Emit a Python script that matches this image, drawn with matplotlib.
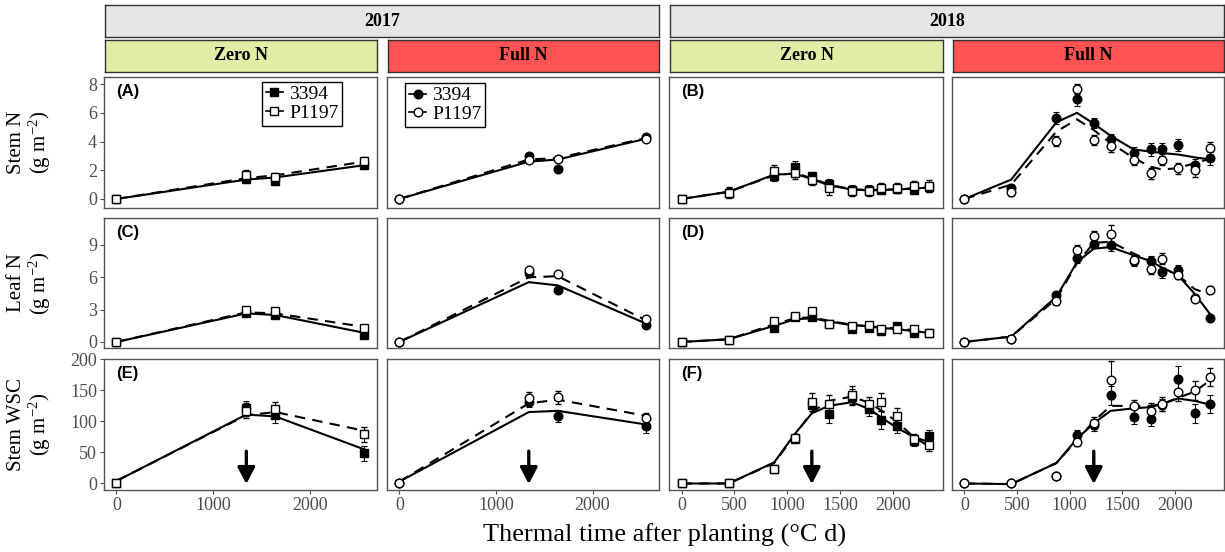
import matplotlib.pyplot as plt
from matplotlib.lines import Line2D

plt.rcParams['font.family'] = ['Liberation Serif', 'DejaVu Serif']
plt.rcParams['mathtext.fontset'] = 'custom'
plt.rcParams['mathtext.rm'] = 'Liberation Serif'
plt.rcParams['mathtext.it'] = 'Liberation Serif:italic'

# thermal time of each harvest (°C d)
tt17 = [0, 1340, 1640, 2555]
tt18 = [0, 445, 875, 1070, 1230, 1390, 1610, 1770, 1880, 2030, 2190, 2335]

# ---- stem N (g m-2) ----
sn17z_3394 = [0, 1.40, 1.25, 2.35]
sn17z_p1197 = [0, 1.65, 1.50, 2.65]
sn17z_se_3394 = [0, 0.25, 0.30, 0.25]
sn17z_se_p1197 = [0, 0.35, 0.30, 0.30]
sn17z_fit_3394 = [0, 1.35, 1.50, 2.35]
sn17z_fit_p1197 = [0, 1.45, 1.65, 2.60]

sn17f_3394 = [0, 3.00, 2.10, 4.35]
sn17f_p1197 = [0, 2.70, 2.80, 4.20]
sn17f_se_3394 = [0, 0.15, 0.10, 0.15]
sn17f_se_p1197 = [0, 0.15, 0.15, 0.15]
sn17f_fit_3394 = [0, 2.60, 2.75, 4.20]
sn17f_fit_p1197 = [0, 2.75, 2.85, 4.25]

sn18z_3394 = [0, 0.45, 1.60, 2.25, 1.60, 1.04, 0.60, 0.60, 0.65, 0.70, 0.62, 0.85]
sn18z_p1197 = [0, 0.44, 1.95, 1.83, 1.32, 0.74, 0.58, 0.55, 0.79, 0.74, 0.90, 0.90]
sn18z_se_3394 = [0, 0.30, 0.35, 0.40, 0.30, 0.35, 0.35, 0.35, 0.30, 0.30, 0.30, 0.35]
sn18z_se_p1197 = [0, 0.40, 0.45, 0.45, 0.35, 0.45, 0.35, 0.35, 0.35, 0.35, 0.35, 0.40]
sn18z_fit_3394 = [0, 0.50, 1.70, 1.75, 1.40, 0.95, 0.65, 0.60, 0.62, 0.66, 0.72, 0.80]
sn18z_fit_p1197 = [0, 0.50, 1.65, 1.80, 1.45, 1.00, 0.68, 0.62, 0.64, 0.68, 0.74, 0.82]

sn18f_3394 = [0, 0.75, 5.65, 6.95, 5.30, 4.15, 3.17, 3.45, 3.45, 3.75, 2.34, 2.83]
sn18f_p1197 = [0, 0.50, 4.05, 7.64, 4.10, 3.68, 2.75, 1.78, 2.75, 2.13, 2.01, 3.52]
sn18f_se_3394 = [0, 0.30, 0.40, 0.45, 0.35, 0.40, 0.45, 0.45, 0.45, 0.40, 0.45, 0.45]
sn18f_se_p1197 = [0, 0.30, 0.35, 0.35, 0.35, 0.40, 0.40, 0.40, 0.35, 0.40, 0.45, 0.45]
sn18f_fit_3394 = [0, 1.35, 5.35, 6.00, 5.25, 4.40, 3.45, 3.30, 3.20, 3.10, 2.90, 2.75]
sn18f_fit_p1197 = [0, 1.00, 4.70, 5.55, 4.80, 3.90, 2.85, 2.25, 2.05, 2.15, 2.50, 2.80]

# ---- leaf N (g m-2) ----
ln17z_3394 = [0, 2.65, 2.50, 0.65]
ln17z_p1197 = [0, 2.95, 2.83, 1.28]
ln17z_se_3394 = [0, 0.25, 0.20, 0.20]
ln17z_se_p1197 = [0, 0.30, 0.25, 0.25]
ln17z_fit_3394 = [0, 2.65, 2.50, 0.85]
ln17z_fit_p1197 = [0, 2.75, 2.65, 1.40]

ln17f_3394 = [0, 6.40, 4.83, 1.55]
ln17f_p1197 = [0, 6.63, 6.26, 2.10]
ln17f_se_3394 = [0, 0.25, 0.20, 0.15]
ln17f_se_p1197 = [0, 0.25, 0.15, 0.15]
ln17f_fit_3394 = [0, 5.55, 5.25, 1.70]
ln17f_fit_p1197 = [0, 6.00, 6.10, 2.00]

ln18z_3394 = [0, 0.19, 1.34, 2.34, 2.34, 1.65, 1.18, 1.34, 1.03, 1.50, 0.87, 0.87]
ln18z_p1197 = [0, 0.19, 1.90, 2.43, 2.83, 1.65, 1.50, 1.56, 1.18, 1.18, 1.18, 0.87]
ln18z_se_3394 = [0, 0.10, 0.15, 0.15, 0.15, 0.15, 0.15, 0.15, 0.15, 0.15, 0.10, 0.10]
ln18z_se_p1197 = [0, 0.10, 0.15, 0.15, 0.20, 0.15, 0.15, 0.15, 0.15, 0.15, 0.10, 0.10]
ln18z_fit_3394 = [0, 0.25, 1.50, 2.10, 2.20, 1.90, 1.55, 1.45, 1.30, 1.20, 1.00, 0.85]
ln18z_fit_p1197 = [0, 0.25, 1.65, 2.20, 2.30, 1.95, 1.60, 1.45, 1.35, 1.25, 1.10, 0.90]

ln18f_3394 = [0, 0.25, 4.36, 7.79, 9.13, 9.03, 7.48, 7.50, 6.48, 6.70, 4.10, 2.21]
ln18f_p1197 = [0, 0.25, 3.77, 8.50, 9.84, 10.06, 7.60, 6.80, 7.73, 6.23, 3.99, 4.86]
ln18f_se_3394 = [0, 0.15, 0.30, 0.45, 0.40, 0.60, 0.45, 0.45, 0.50, 0.45, 0.30, 0.25]
ln18f_se_p1197 = [0, 0.15, 0.30, 0.45, 0.45, 0.75, 0.45, 0.45, 0.50, 0.40, 0.30, 0.35]
ln18f_fit_3394 = [0, 0.50, 4.20, 7.40, 8.66, 8.80, 8.04, 7.50, 6.88, 6.20, 4.46, 2.59]
ln18f_fit_p1197 = [0, 0.50, 4.00, 7.30, 9.20, 9.30, 8.20, 7.50, 6.90, 6.20, 4.90, 4.40]

# ---- stem water soluble carbohydrate (g m-2) ----
wsc17z_3394 = [0, 121, 110, 48.5]
wsc17z_p1197 = [0, 117, 120, 79]
wsc17z_se_3394 = [0, 12, 12, 12]
wsc17z_se_p1197 = [0, 12, 12, 12]
wsc17z_fit_3394 = [4, 111, 108, 55]
wsc17z_fit_p1197 = [4, 110, 115, 85]

wsc17f_3394 = [0, 131, 109, 92]
wsc17f_p1197 = [0, 137.7, 138.7, 105]
wsc17f_se_3394 = [0, 8, 10, 10]
wsc17f_se_p1197 = [0, 10, 10, 8]
wsc17f_fit_3394 = [3, 115, 117, 95]
wsc17f_fit_p1197 = [3, 129, 135, 109]

wsc18z_3394 = [0, 0, 23, 72, 127, 112, 140, 120, 102, 93, 68, 76]
wsc18z_p1197 = [0, 0, 23, 74, 131, 128, 142, 128, 131, 109, 71, 62]
wsc18z_se_3394 = [0, 2, 4, 5, 10, 15, 12, 12, 14, 12, 8, 10]
wsc18z_se_p1197 = [0, 2, 4, 6, 15, 15, 15, 12, 14, 12, 8, 10]
wsc18z_fit_3394 = [0, 0, 34, 80, 113, 125, 131, 120, 107, 90, 75, 67]
wsc18z_fit_p1197 = [0, 0, 33, 78, 115, 133, 140, 130, 118, 100, 75, 60]

wsc18f_3394 = [0, 0, 12, 78.6, 94, 142, 107.6, 103.8, 126, 169, 113, 128]
wsc18f_p1197 = [0, 0, 12, 66.6, 97.7, 166.6, 124, 117, 128, 147.5, 150, 171.5]
wsc18f_se_3394 = [0, 2, 4, 8, 10, 15, 12, 12, 10, 20, 15, 15]
wsc18f_se_p1197 = [0, 2, 4, 6, 10, 30, 10, 12, 12, 15, 15, 15]
wsc18f_fit_3394 = [0, -1, 33, 72, 97, 117, 121, 123, 128, 137, 133, 127]
wsc18f_fit_p1197 = [0, -1, 33, 70, 100, 125, 125, 125, 128, 138, 148, 166]

# flowering, marked by the arrows in the bottom row
flower17 = 1340
flower18 = 1230

years = ['2017', '2018']
treatments = ['Zero N', 'Full N']
row_labels = ['Stem N\n(g m$^{-2}$)', 'Leaf N\n(g m$^{-2}$)', 'Stem WSC\n(g m$^{-2}$)']
row_ticks = [[0, 2, 4, 6, 8], [0, 3, 6, 9], [0, 50, 100, 150, 200]]
row_ylim = [(-0.63, 8.5), (-0.56, 11.5), (-10.5, 200.5)]
letters = {(0, 0): '(A)', (0, 2): '(B)', (1, 0): '(C)', (1, 2): '(D)', (2, 0): '(E)', (2, 2): '(F)'}

# rows x columns of (obs 3394, obs P1197, se 3394, se P1197, fit 3394, fit P1197)
grid = [
    [(sn17z_3394, sn17z_p1197, sn17z_se_3394, sn17z_se_p1197, sn17z_fit_3394, sn17z_fit_p1197),
     (sn17f_3394, sn17f_p1197, sn17f_se_3394, sn17f_se_p1197, sn17f_fit_3394, sn17f_fit_p1197),
     (sn18z_3394, sn18z_p1197, sn18z_se_3394, sn18z_se_p1197, sn18z_fit_3394, sn18z_fit_p1197),
     (sn18f_3394, sn18f_p1197, sn18f_se_3394, sn18f_se_p1197, sn18f_fit_3394, sn18f_fit_p1197)],
    [(ln17z_3394, ln17z_p1197, ln17z_se_3394, ln17z_se_p1197, ln17z_fit_3394, ln17z_fit_p1197),
     (ln17f_3394, ln17f_p1197, ln17f_se_3394, ln17f_se_p1197, ln17f_fit_3394, ln17f_fit_p1197),
     (ln18z_3394, ln18z_p1197, ln18z_se_3394, ln18z_se_p1197, ln18z_fit_3394, ln18z_fit_p1197),
     (ln18f_3394, ln18f_p1197, ln18f_se_3394, ln18f_se_p1197, ln18f_fit_3394, ln18f_fit_p1197)],
    [(wsc17z_3394, wsc17z_p1197, wsc17z_se_3394, wsc17z_se_p1197, wsc17z_fit_3394, wsc17z_fit_p1197),
     (wsc17f_3394, wsc17f_p1197, wsc17f_se_3394, wsc17f_se_p1197, wsc17f_fit_3394, wsc17f_fit_p1197),
     (wsc18z_3394, wsc18z_p1197, wsc18z_se_3394, wsc18z_se_p1197, wsc18z_fit_3394, wsc18z_fit_p1197),
     (wsc18f_3394, wsc18f_p1197, wsc18f_se_3394, wsc18f_se_p1197, wsc18f_fit_3394, wsc18f_fit_p1197)],
]

W, H = 1225, 552
col_x = [(104, 377), (387, 659), (669, 943), (952, 1224)]
row_y = [(77, 208), (218, 348), (359, 490)]
strip_fill = {'Zero N': '#E3ECA6', 'Full N': '#FF5252'}
grey_txt = '#4D4D4D'
frame = '#555555'


def px_box(left, top, right, bottom):
    return [left / W, 1 - bottom / H, (right - left) / W, (bottom - top) / H]


def strip(left, top, right, bottom, label, fill):
    sax = fig.add_axes(px_box(left, top, right, bottom))
    sax.set_facecolor(fill)
    sax.set_xticks([])
    sax.set_yticks([])
    for s in sax.spines.values():
        s.set_color('#333333')
        s.set_linewidth(1.0)
    sax.text(0.5, 0.5, label, ha='center', va='center', fontsize=13,
             fontweight='bold', transform=sax.transAxes)


fig = plt.figure(figsize=(W / 100, H / 100), dpi=100)

# facet strips
for yi, yr in enumerate(years):
    c0, c1 = col_x[2 * yi], col_x[2 * yi + 1]
    strip(c0[0] + 1, 5, c1[1], 37, yr, '#E6E6E6')
    for ti, trt in enumerate(treatments):
        c = col_x[2 * yi + ti]
        strip(c[0] + 1, 40, c[1], 72, trt, strip_fill[trt])

for r in range(3):
    for c in range(4):
        ax = fig.add_axes(px_box(col_x[c][0], row_y[r][0], col_x[c][1], row_y[r][1]))
        obs_a, obs_b, se_a, se_b, fit_a, fit_b = grid[r][c]
        tt = tt17 if c < 2 else tt18
        mk = 's' if c % 2 == 0 else 'o'
        ms = 5.5 if mk == 's' else 6.2

        ax.plot(tt, fit_a, color='black', lw=1.5, ls='-', zorder=2)
        ax.plot(tt, fit_b, color='black', lw=1.5, ls=(0, (5, 3.5)), zorder=2)
        ax.errorbar(tt, obs_a, yerr=se_a, fmt=mk, ms=ms, mfc='black', mec='black',
                    ecolor='black', elinewidth=0.8, capsize=2, capthick=0.8, zorder=3)
        ax.errorbar(tt, obs_b, yerr=se_b, fmt=mk, ms=ms, mfc='white', mec='black',
                    mew=1.0, ecolor='black', elinewidth=0.8, capsize=2, capthick=0.8, zorder=4)

        if c < 2:
            ax.set_xlim(-128, 2688)
            ax.set_xticks([0, 1000, 2000])
        else:
            ax.set_xlim(-118, 2468)
            ax.set_xticks([0, 500, 1000, 1500, 2000])
        ax.set_ylim(*row_ylim[r])
        ax.set_yticks(row_ticks[r])
        ax.tick_params(axis='both', direction='out', length=3, width=0.8, color=grey_txt,
                       labelcolor=grey_txt, labelsize=13, pad=2)
        if r < 2:
            ax.tick_params(axis='x', bottom=False, labelbottom=False)
        if c > 0:
            ax.tick_params(axis='y', left=False, labelleft=False)
        for s in ax.spines.values():
            s.set_color(frame)
            s.set_linewidth(1.0)

        if (r, c) in letters:
            ax.text(0.045, 0.95, letters[(r, c)], transform=ax.transAxes, ha='left', va='top',
                    fontsize=12, fontweight='bold', family=['Liberation Sans', 'DejaVu Sans'])

        if r == 2:
            fx = flower17 if c < 2 else flower18
            ax.annotate('', xy=(fx, -1), xytext=(fx, 52),
                        arrowprops=dict(arrowstyle='-|>,head_width=0.26,head_length=0.5',
                                        lw=2.4, color='black', mutation_scale=20,
                                        shrinkA=0, shrinkB=0), zorder=5)

        if r == 0 and c < 2:
            handles = [Line2D([], [], color='black', lw=1.2, marker=mk, ms=ms,
                              mfc='black', mec='black'),
                       Line2D([], [], color='black', lw=1.2, marker=mk, ms=ms,
                              mfc='white', mec='black')]
            anchor = (0.578, 0.965) if c == 0 else (0.066, 0.955)
            leg = ax.legend(handles, ['3394', 'P1197'], loc='upper left', bbox_to_anchor=anchor,
                            fontsize=14, handlelength=0.9, handletextpad=0.3, labelspacing=0.05,
                            borderpad=0.2, borderaxespad=0, fancybox=False, framealpha=1)
            leg.get_frame().set_edgecolor('black')
            leg.get_frame().set_linewidth(1.0)

        if c == 0:
            fig.text(30 / W, 1 - (row_y[r][0] + row_y[r][1]) / 2 / H, row_labels[r],
                     rotation=90, ha='center', va='center', fontsize=15,
                     multialignment='center', linespacing=1.0)

fig.text(665 / W, 1 - 535 / H, 'Thermal time after planting (°C d)', ha='center', va='center',
         fontsize=19)

fig.savefig('out.png', dpi=100)
